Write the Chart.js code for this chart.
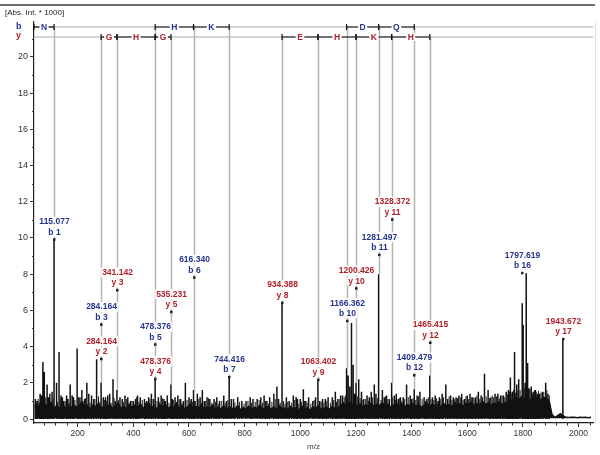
<!DOCTYPE html>
<html><head><meta charset="utf-8">
<script src="https://cdn.jsdelivr.net/npm/chart.js@4.4.1/dist/chart.umd.min.js"></script>
<style>html,body{margin:0;padding:0;background:#fff;}canvas{display:block;}</style>
</head><body>
<canvas id="c" width="600" height="455"></canvas>
<script>
// ---------- DATA ----------
const xTicks = [200,400,600,800,1000,1200,1400,1600,1800,2000];
const yTicks = [0,2,4,6,8,10,12,14,16,18,20];

// noise band upper envelope, one value every 10 m/z starting at m/z 45
const noiseStart = 45, noiseStep = 10;
const noiseTop = [
 0.75,0.55,0.85,0.6,0.8,0.65,
 0.9,0.6,0.75,0.55,0.85,0.62,0.78,0.58,0.82,0.66,
 0.7,0.95,0.6,0.78,0.55,0.8,0.68,0.88,0.6,0.74,
 0.62,0.85,0.58,0.76,0.9,0.6,0.72,0.55,0.8,0.65,
 0.78,0.58,0.86,0.62,0.7,0.92,0.6,0.75,0.56,0.8,
 0.66,0.84,0.58,0.72,0.62,0.88,0.6,0.76,0.55,0.7,
 0.82,0.58,0.7,0.62,0.8,0.55,0.68,0.6,0.78,0.52,
 0.66,0.56,0.74,0.5,0.7,0.6,0.58,0.76,0.52,0.64,
 0.55,0.72,0.5,0.66,0.58,0.78,0.52,0.62,0.7,0.55,
 0.68,0.5,0.75,0.58,0.62,0.52,0.7,0.56,0.64,0.5,
 0.72,0.55,0.62,0.5,0.68,0.58,0.74,0.52,0.6,0.66,
 0.54,0.7,0.58,0.62,0.75,0.9,0.7,0.95,0.78,0.88,
 0.72,0.85,0.66,0.8,0.7,0.9,0.68,0.82,0.74,0.92,
 0.7,0.84,0.66,0.78,0.9,0.72,0.86,0.68,0.8,0.74,
 0.88,0.7,0.82,0.65,0.78,0.9,0.7,0.84,0.72,0.8,
 0.68,0.86,0.74,0.8,0.7,0.92,0.76,0.84,0.72,0.88,
 0.8,0.95,0.74,0.86,0.78,0.98,0.82,0.9,0.76,0.88,
 0.84,0.96,0.8,0.92,0.86,1.1,0.95,1.2,1.05,1.25,
 1.1,1.3,1.0,1.2,1.1,1.25,1.05,1.2,1.15,1.0,
 0.25,0.1,0.2,0.3,0.18,0.1,0.09,0.11,0.1,0.08,0.1,0.09,0.1,0.08,0.1
];

// main peak sticks (m/z, intensity x1000)
const peakMz = [48,55,65,70,75,80,90,95,100,108,115.077,124,133,140,145,150,160,165,173,180,185,198,208,215,225,233,240,250,258,268,284.164,292,300,308,315,327,335,341.142,352,360,370,380,390,400,408,415,425,440,448,455,465,472,478.376,490,500,510,515,522,535.231,540,550,560,570,580,587,600,608,616.34,622,630,640,648,655,665,675,690,700,710,725,735,744.416,752,760,775,790,805,820,830,845,858,870,880,890,905,916,922,934.388,950,960,975,985,990,1000,1011,1020,1030,1045,1055,1063.402,1070,1080,1090,1100,1115,1126,1135,1145,1152,1166.362,1172,1178,1184,1190,1195,1200.426,1210,1220,1228,1240,1248,1255,1266,1272,1281.497,1295,1302,1310,1320,1328.372,1338,1345,1352,1360,1370,1382,1395,1400,1409.479,1420,1430,1445,1455,1465.415,1475,1485,1495,1500,1510,1523,1530,1540,1550,1560,1570,1580,1590,1600,1610,1620,1630,1640,1650,1662,1675,1685,1700,1710,1720,1730,1740,1748,1755,1762,1770,1778,1785,1797.619,1801,1808,1812,1817,1822,1830,1838,1845,1852,1860,1870,1882,1890,1943.672];
const peakInt = [1.1,1.0,1.4,1.3,3.15,2.6,1.9,1.2,1.4,1.5,9.9,2.0,3.7,1.3,1.2,1.0,1.3,1.1,1.9,1.3,1.2,3.9,1.2,1.6,1.1,2.0,1.4,1.3,1.1,3.3,2.0,1.2,1.2,1.3,1.4,2.2,1.0,1.6,1.2,1.1,1.3,1.2,1.0,1.0,1.1,1.3,1.2,1.1,1.0,1.2,1.4,1.1,2.2,1.2,1.3,1.1,1.0,1.3,1.9,1.1,1.2,1.3,1.1,1.0,2.0,1.2,1.1,1.6,1.0,1.4,1.2,1.6,1.0,1.2,1.1,1.1,1.2,1.0,1.3,1.0,2.3,1.1,1.1,1.2,1.0,1.0,1.2,1.1,1.1,1.2,1.3,1.0,1.2,1.4,1.8,1.1,6.4,1.2,1.0,1.3,1.2,1.1,1.1,1.65,1.0,1.2,1.0,1.2,2.1,1.0,1.1,1.1,1.2,1.2,1.5,1.1,1.3,1.3,2.8,2.4,1.8,5.3,3.0,1.4,2.0,2.2,1.5,1.1,1.3,1.2,1.5,1.9,1.4,8.0,1.6,1.2,1.3,1.1,2.0,1.3,1.4,1.1,1.2,1.2,1.9,1.3,1.1,1.65,1.3,1.5,1.2,1.1,2.4,1.2,1.3,1.0,1.2,1.4,1.9,1.1,1.3,1.2,1.2,1.3,1.4,1.1,1.3,1.4,1.2,1.2,1.5,1.3,2.5,1.6,1.2,1.4,1.4,1.3,1.3,1.5,1.6,2.3,1.5,3.7,1.9,2.2,6.4,5.2,2.0,8.05,3.1,1.7,1.8,1.5,1.6,1.4,1.4,1.5,2.0,1.4,4.4];

// small "grass" spikes above the noise band
const grassMz = [52,58,62,85,104,112,128,137,155,170,
 190,203,212,220,228,245,262,275,280,296,
 304,320,331,346,365,375,385,395,412,420,
 432,444,460,485,495,505,528,545,555,565,
 575,593,604,612,635,645,660,670,682,695,
 705,718,730,740,765,782,798,812,825,838,
 852,864,875,885,898,910,928,940,945,955,
 968,980,995,1005,1015,1025,1038,1050,1075,1085,
 1095,1108,1120,1130,1140,1158,1162,1205,1215,1225,
 1235,1245,1260,1277,1290,1306,1315,1332,1342,1356,
 1365,1375,1388,1405,1415,1425,1438,1450,1460,1470,
 1480,1490,1505,1515,1535,1545,1555,1565,1575,1585,
 1595,1605,1615,1625,1635,1645,1655,1668,1680,1690,
 1695,1705,1715,1725,1735,1745,1752,1758,1766,1774,
 1782,1790,1805,1815,1826,1834,1842,1848,1856,1865,
 1875,1886,1895];
const grassInt = [0.95,1.1,0.9,1.2,1.0,1.15,0.95,1.1,1.0,0.9,
 1.05,1.2,0.95,1.0,1.15,0.9,1.1,1.25,0.95,1.05,
 1.0,0.9,1.15,1.05,0.95,1.1,0.9,1.0,1.2,0.95,
 1.05,0.9,1.1,1.0,0.95,1.15,0.9,1.05,0.95,1.1,
 0.9,1.05,1.0,0.95,1.1,0.9,1.0,1.15,0.9,0.95,
 0.85,1.0,0.9,1.05,0.9,0.95,0.85,1.0,0.9,0.95,
 1.05,0.9,1.0,0.85,0.95,1.1,0.9,1.0,0.85,0.95,
 0.9,1.05,0.85,0.95,1.0,0.9,0.85,1.05,0.95,0.9,
 1.0,0.9,1.05,0.95,1.1,1.2,1.3,1.25,1.15,1.05,
 1.1,1.0,1.2,1.15,1.05,1.25,1.1,1.2,1.05,1.15,
 1.0,1.1,1.2,1.15,1.05,1.25,1.1,1.0,1.2,1.1,
 1.05,1.15,1.1,1.2,1.25,1.05,1.1,1.15,1.2,1.05,
 1.25,1.1,1.2,1.15,1.3,1.1,1.2,1.25,1.15,1.3,
 1.2,1.25,1.15,1.3,1.2,1.35,1.5,1.4,1.6,1.45,
 1.55,1.6,1.7,1.5,1.65,1.45,1.6,1.5,1.55,1.45,
 1.5,1.6,1.3];

// annotated ions
const ionMz    = [115.077,284.164,284.164,341.142,478.376,478.376,535.231,616.340,744.416,934.388,1063.402,1166.362,1200.426,1281.497,1328.372,1409.479,1465.415,1797.619,1943.672];
const ionText  = ['115.077','284.164','284.164','341.142','478.376','478.376','535.231','616.340','744.416','934.388','1063.402','1166.362','1200.426','1281.497','1328.372','1409.479','1465.415','1797.619','1943.672'];
const ionName  = ['b 1','b 3','y 2','y 3','b 5','y 4','y 5','b 6','b 7','y 8','y 9','b 10','y 10','b 11','y 11','b 12','y 12','b 16','y 17'];
const ionLabelAt = [9.9,5.2,3.3,7.1,4.1,2.2,5.9,7.8,2.3,6.4,2.15,5.4,7.2,9.05,11.0,2.4,4.2,8.05,4.4];

// connector lines to sequence rows
const connMz  = [115.077,284.164,341.142,478.376,535.231,616.340,744.416,934.388,1063.402,1166.362,1200.426,1281.497,1328.372,1409.479,1465.415];
const connRow = ['b','y','y','b','y','b','b','y','y','b','y','b','y','b','y'];

// sequence ladders [from m/z, to m/z, residue]; null = axis start
const bLadder = [[null,115.077,'N'],[478.376,616.340,'H'],[616.340,744.416,'K'],[1166.362,1281.497,'D'],[1281.497,1409.479,'Q']];
const yLadder = [[284.164,341.142,'G'],[341.142,478.376,'H'],[478.376,535.231,'G'],[934.388,1063.402,'E'],[1063.402,1200.426,'H'],[1200.426,1328.372,'K'],[1328.372,1465.415,'H']];

// ---------- BUILD ----------
const BLUE = '#26338e', RED = '#b2202a';
const FONT = '"Liberation Sans", Arial, sans-serif';
const noiseData = noiseTop.map((v,i)=>({x: noiseStart + i*noiseStep, y: v}));
function sticks(mzs, ints){ const d = []; mzs.forEach((m,i)=>{ d.push({x:m,y:0},{x:m,y:ints[i]},{x:m,y:null}); }); return d; }
const stickData = sticks(peakMz, peakInt);
const grassData = sticks(grassMz, grassInt);

function peakAt(m){ const i = peakMz.indexOf(m); return i>=0 ? peakInt[i] : 0; }

const deco = {
  id: 'deco',
  beforeDatasetsDraw(chart){
    const ctx = chart.ctx, ca = chart.chartArea, X = v=>chart.scales.x.getPixelForValue(v), Y = v=>chart.scales.y.getPixelForValue(v);
    const rowY = {b: ca.top+5, y: ca.top+15};
    ctx.save();
    ctx.strokeStyle = '#e2e2e2'; ctx.lineWidth = 1;
    ctx.beginPath(); ctx.moveTo(ca.right+2.5, ca.top); ctx.lineTo(ca.right+2.5, ca.bottom); ctx.stroke();
    ctx.strokeStyle = '#c6c6c6'; ctx.lineWidth = 1.5;
    ['b','y'].forEach(r=>{ ctx.beginPath(); ctx.moveTo(ca.left, rowY[r]); ctx.lineTo(ca.right, rowY[r]); ctx.stroke(); });
    ctx.strokeStyle = '#b5b5b5'; ctx.lineWidth = 1.5;
    connMz.forEach((m,i)=>{
      const x = Math.round(X(m))+0.5;
      ctx.beginPath(); ctx.moveTo(x, rowY[connRow[i]]); ctx.lineTo(x, Y(peakAt(m))); ctx.stroke();
    });
    const drawLadder = (lad, yy, col) => {
      lad.forEach(([a,b,res])=>{
        const x1 = a===null ? ca.left : X(a), x2 = X(b);
        ctx.strokeStyle = '#111'; ctx.lineWidth = 1.2;
        ctx.beginPath(); ctx.moveTo(x1, yy); ctx.lineTo(x2, yy); ctx.stroke();
        ctx.beginPath(); ctx.moveTo(x1, yy-3); ctx.lineTo(x1, yy+3); ctx.moveTo(x2, yy-3); ctx.lineTo(x2, yy+3); ctx.stroke();
        ctx.font = 'bold 8.5px ' + FONT;
        const w = ctx.measureText(res).width + 3, cx = (x1+x2)/2;
        ctx.fillStyle = '#fff'; ctx.fillRect(cx-w/2, yy-4, w, 8);
        ctx.fillStyle = col; ctx.textAlign = 'center'; ctx.textBaseline = 'middle';
        ctx.fillText(res, cx, yy+0.5);
      });
    };
    drawLadder(bLadder, rowY.b, BLUE);
    drawLadder(yLadder, rowY.y, RED);
    ctx.restore();
  },
  afterDatasetsDraw(chart){
    const ctx = chart.ctx, X = v=>chart.scales.x.getPixelForValue(v), Y = v=>chart.scales.y.getPixelForValue(v);
    ctx.save();
    ctx.font = 'bold 8.5px ' + FONT; ctx.textAlign = 'center'; ctx.textBaseline = 'middle';
    ionMz.forEach((m,i)=>{
      const x = Math.round(X(m))+0.5, yd = Y(ionLabelAt[i]);
      const col = ionName[i][0]==='b' ? BLUE : RED;
      const w1 = ctx.measureText(ionText[i]).width + 2, w2 = ctx.measureText(ionName[i]).width + 2;
      ctx.fillStyle = '#fff';
      ctx.fillRect(x-w1/2, yd-23, w1, 10);
      ctx.fillRect(x-w2/2, yd-12, w2, 9);
      ctx.fillStyle = col;
      ctx.fillText(ionText[i], x, yd-18);
      ctx.fillText(ionName[i], x, yd-7.5);
      ctx.fillStyle = '#222';
      ctx.fillRect(x-1.5, yd-1.5, 2.5, 2.5);
    });
    ctx.restore();
  },
  afterDraw(chart){
    const ctx = chart.ctx, ca = chart.chartArea, X = v=>chart.scales.x.getPixelForValue(v), Y = v=>chart.scales.y.getPixelForValue(v);
    ctx.save();
    ctx.fillStyle = '#6e6e6e'; ctx.fillRect(0, 4, ca.right+2, 2);
    ctx.fillStyle = '#222'; ctx.font = '8px ' + FONT; ctx.textAlign = 'left'; ctx.textBaseline = 'middle';
    ctx.fillText('[Abs. Int. * 1000]', 5, 13);
    ctx.font = 'bold 9px ' + FONT;
    ctx.fillStyle = BLUE; ctx.fillText('b', 16, ca.top+5);
    ctx.fillStyle = RED; ctx.fillText('y', 16, ca.top+14);
    ctx.strokeStyle = '#333'; ctx.lineWidth = 1;
    ctx.beginPath();
    for (let v = 1; v <= 21; v += 2) { const y = Math.round(Y(v))+0.5; ctx.moveTo(ca.left-2, y); ctx.lineTo(ca.left, y); }
    for (let v = 80; v <= 2040; v += 40) { if (v % 200 === 0) continue; const x = Math.round(X(v))+0.5; ctx.moveTo(x, ca.bottom); ctx.lineTo(x, ca.bottom+2.5); }
    ctx.stroke();
    ctx.restore();
  }
};

new Chart(document.getElementById('c'), {
  type: 'line',
  data: { datasets: [
    { data: noiseData, borderColor: '#111', backgroundColor: '#111', borderWidth: 1.2, pointRadius: 0, fill: {value: 0.04}, tension: 0 },
    { data: grassData, borderColor: '#1a1a1a', borderWidth: 1, pointRadius: 0, fill: false, spanGaps: false, tension: 0 },
    { data: stickData, borderColor: '#111', borderWidth: 1.5, pointRadius: 0, fill: false, spanGaps: false, tension: 0 }
  ]},
  options: {
    responsive: false, animation: false, events: [],
    layout: { padding: { top: 22, right: 7, left: 0, bottom: 0 } },
    plugins: { legend: { display: false }, tooltip: { enabled: false } },
    scales: {
      x: {
        type: 'linear', min: 43, max: 2052,
        afterFit(s){ s.height = 32; },
        afterBuildTicks(s){ s.ticks = xTicks.map(v=>({value:v})); },
        grid: { drawOnChartArea: false, drawTicks: true, tickLength: 4, color: '#333' },
        border: { color: '#222', width: 1.2 },
        ticks: { color: '#333', font: { size: 8.5, family: FONT }, padding: 2, maxRotation: 0, autoSkip: false, callback: v => String(v) },
        title: { display: true, text: 'm/z', color: '#333', font: { size: 8, family: FONT }, padding: { top: 0, bottom: 3 } }
      },
      y: {
        type: 'linear', min: -0.22, max: 21.93,
        afterFit(s){ s.width = 34; },
        afterBuildTicks(s){ s.ticks = yTicks.map(v=>({value:v})); },
        grid: { drawOnChartArea: false, drawTicks: true, tickLength: 4, color: '#333' },
        border: { color: '#222', width: 1.2 },
        ticks: { color: '#333', font: { size: 9, family: FONT }, padding: 2, callback: v => String(v) }
      }
    }
  },
  plugins: [deco]
});
</script>
</body></html>
